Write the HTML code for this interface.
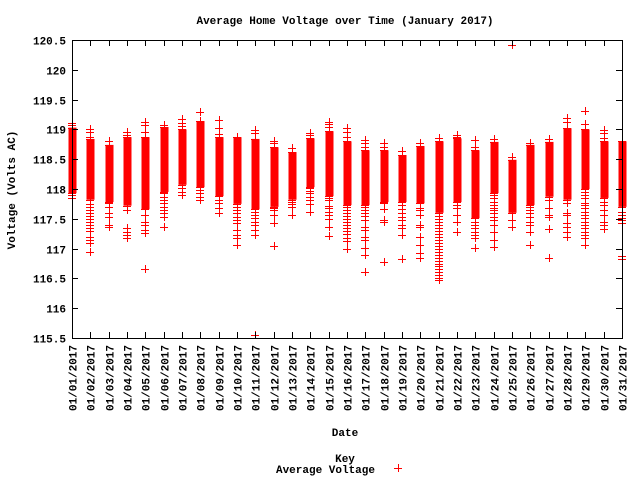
<!DOCTYPE html>
<html><head><meta charset="utf-8"><style>
body{margin:0;background:#fff;}
svg{display:block;font-family:"Liberation Mono",monospace;font-size:11px;font-weight:bold;}
</style></head><body>
<svg id="chart" width="640" height="480" viewBox="0 0 640 480" xmlns="http://www.w3.org/2000/svg">
<rect width="640" height="480" fill="#fff"/>
<text x="345" y="24" text-anchor="middle">Average Home Voltage over Time (January 2017)</text>
<text transform="translate(15,190) rotate(-90)" text-anchor="middle">Voltage (Volts AC)</text>
<text x="345" y="436" text-anchor="middle">Date</text>
<text x="345" y="462" text-anchor="middle">Key</text>
<text x="375" y="473" text-anchor="end">Average Voltage</text>
<g stroke="#f00" stroke-width="1"><line x1="394" y1="468.5" x2="402" y2="468.5"/><line x1="398.5" y1="464" x2="398.5" y2="472"/></g>
<g id="marks"></g>
<g id="axes"></g>
</svg>
<script>
const days = ["01/01/2017","01/02/2017","01/03/2017","01/04/2017","01/05/2017","01/06/2017","01/07/2017","01/08/2017","01/09/2017","01/10/2017","01/11/2017","01/12/2017","01/13/2017","01/14/2017","01/15/2017","01/16/2017","01/17/2017","01/18/2017","01/19/2017","01/20/2017","01/21/2017","01/22/2017","01/23/2017","01/24/2017","01/25/2017","01/26/2017","01/27/2017","01/28/2017","01/29/2017","01/30/2017","01/31/2017"];
const denseHigh = [119.03,118.84,118.74,118.87,118.87,119.04,119.0,119.14,118.87,118.87,118.84,118.7,118.62,118.85,118.97,118.8,118.65,118.65,118.57,118.72,118.8,118.85,118.65,118.79,118.49,118.74,118.79,119.02,119.0,118.8,118.8];
const denseLow = [117.93,117.82,117.78,117.72,117.66,117.95,118.07,118.03,117.88,117.75,117.66,117.7,117.82,118.03,117.88,117.73,117.73,117.78,117.78,117.76,117.6,117.78,117.51,117.93,117.6,117.73,117.87,117.82,118.0,117.85,117.7];
const outliers = [
 [119.1,119.07,117.9,117.85],
 [119.0,118.95,118.87,117.75,117.7,117.65,117.6,117.55,117.5,117.45,117.4,117.35,117.3,117.2,117.15,117.1,116.95],
 [118.8,117.76,117.7,117.6,117.53,117.4,117.36],
 [118.95,118.9,117.65,117.35,117.28,117.23,117.18],
 [119.12,119.07,118.96,117.56,117.45,117.4,117.31,117.26,116.66],
 [119.07,117.93,117.87,117.82,117.77,117.7,117.65,117.6,117.53,117.36],
 [119.17,119.1,119.06,118.02,117.95,117.9],
 [119.29,117.98,117.93,117.87,117.82],
 [119.16,119.02,118.92,117.82,117.77,117.68,117.6],
 [117.7,117.65,117.6,117.53,117.48,117.43,117.31,117.23,117.18,117.06],
 [118.99,118.94,117.61,117.56,117.51,117.45,117.4,117.31,117.23,115.55],
 [118.8,118.77,117.68,117.65,117.56,117.43,117.04],
 [118.69,117.78,117.75,117.7,117.56],
 [118.94,118.9,118.02,117.97,117.93,117.87,117.82,117.75,117.61],
 [119.12,119.09,119.04,117.85,117.82,117.72,117.68,117.61,117.56,117.5,117.36,117.21],
 [119.02,118.96,118.87,117.7,117.65,117.6,117.55,117.5,117.45,117.4,117.35,117.3,117.25,117.18,117.12,116.99],
 [118.82,118.77,118.7,117.7,117.65,117.6,117.55,117.48,117.36,117.31,117.19,117.14,117.01,116.89,116.61],
 [118.77,118.7,117.77,117.66,117.48,117.45,116.78],
 [118.64,117.73,117.66,117.6,117.53,117.48,117.4,117.35,117.23,116.83],
 [118.77,117.68,117.65,117.56,117.4,117.36,117.19,117.06,116.93,116.84],
 [118.85,117.55,117.5,117.45,117.4,117.35,117.3,117.25,117.2,117.15,117.1,117.05,117.0,116.95,116.9,116.85,116.8,116.75,116.7,116.65,116.6,116.55,116.5,116.47],
 [118.9,118.87,117.73,117.68,117.56,117.45,117.28],
 [118.82,118.7,117.45,117.4,117.35,117.28,117.23,117.18,117.01],
 [118.84,117.9,117.85,117.78,117.73,117.68,117.65,117.6,117.53,117.48,117.4,117.28,117.14,117.03],
 [120.42,118.54,117.48,117.36],
 [118.77,117.7,117.65,117.6,117.53,117.45,117.4,117.28,117.06],
 [118.84,117.82,117.68,117.56,117.53,117.33,116.84],
 [119.19,119.12,117.77,117.6,117.56,117.43,117.36,117.28,117.19],
 [119.31,119.09,117.95,117.9,117.85,117.77,117.73,117.68,117.61,117.56,117.51,117.45,117.4,117.35,117.28,117.23,117.18,117.06],
 [118.99,118.94,118.86,117.78,117.73,117.65,117.56,117.45,117.4,117.33],
 [117.61,117.56,117.51,117.48,117.43,116.88,116.83]
];
const yTicks = [115.5,116,116.5,117,117.5,118,118.5,119,119.5,120,120.5];
const yTickLabels = ["115.5","116","116.5","117","117.5","118","118.5","119","119.5","120","120.5"];

const NS="http://www.w3.org/2000/svg";
const L=72,R=622,T=40,B=338,YMIN=115.5,YMAX=120.5;
const xs=i=>L+(R-L)*i/(days.length-1);
const ys=v=>B-(B-T)*(v-YMIN)/(YMAX-YMIN);
function mk(tag,attrs,parent){const e=document.createElementNS(NS,tag);for(const k in attrs)e.setAttribute(k,attrs[k]);parent.appendChild(e);return e;}
const marks=document.getElementById('marks'), axes=document.getElementById('axes');
function plus(x,y,i){
  const g=mk('g',{stroke:'#f00','stroke-width':1},marks);
  
  
  mk('line',{x1:x-4,y1:y+0.5,x2:x+4,y2:y+0.5},g);
  mk('line',{x1:x+0.5,y1:y-4,x2:x+0.5,y2:y+4},g);
}
days.forEach((d,i)=>{
  const x=Math.round(xs(i));
  const y1=ys(denseHigh[i]), y2=ys(denseLow[i]);
  const r=mk('rect',{x:x-3.5,y:y1,width:8,height:y2-y1,fill:'#f00'},marks);
  
  
  plus(x,Math.round(y1),i);plus(x,Math.round(y2),i);
  outliers[i].forEach(v=>plus(x,Math.round(ys(v)),i));
});
const f=mk('rect',{x:L+0.5,y:T+0.5,width:R-L,height:B-T,fill:'none',stroke:'#000','stroke-width':1},axes);


yTicks.forEach((v,i)=>{
  const y=Math.round(ys(v))+0.5;
  mk('line',{x1:L,y1:y,x2:L+6,y2:y,stroke:'#000'},axes);
  mk('line',{x1:R-6,y1:y,x2:R,y2:y,stroke:'#000'},axes);
  const t=mk('text',{x:L-6,y:y+4,'text-anchor':'end'},axes);
  t.textContent=yTickLabels[i];
  
  
});
days.forEach((d,i)=>{
  const x=Math.round(xs(i))+0.5;
  mk('line',{x1:x,y1:B,x2:x,y2:B-6,stroke:'#000'},axes);
  mk('line',{x1:x,y1:T,x2:x,y2:T+6,stroke:'#000'},axes);
  const t=mk('text',{transform:`translate(${x+4},${B+7}) rotate(-90)`,'text-anchor':'end'},axes);
  t.textContent=d;
  
  
});
</script>
</body></html>
